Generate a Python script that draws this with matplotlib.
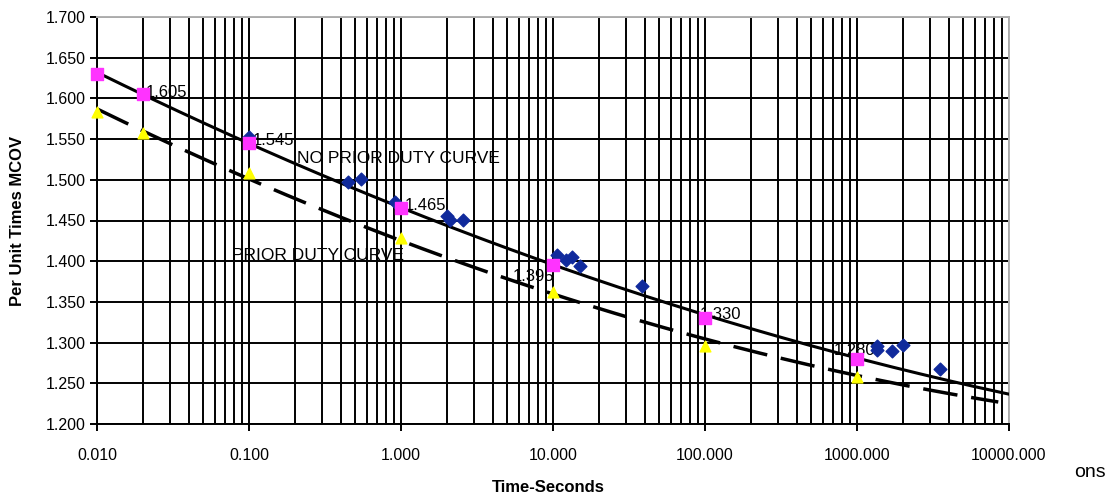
import matplotlib
matplotlib.use("Agg")
import matplotlib.pyplot as plt
import numpy as np
from matplotlib.ticker import FixedLocator, FuncFormatter, LogLocator, NullFormatter

plt.rcParams['font.family'] = ['Liberation Sans', 'DejaVu Sans']

# test results (blue diamonds)
test_t = [0.1, 0.448, 0.546, 0.914, 2.0, 2.1, 2.56, 10.6, 12.2, 13.3, 15.1, 38.5, 1350, 1350, 1700, 1995, 3516]
test_v = [1.552, 1.497, 1.501, 1.473, 1.455, 1.451, 1.451, 1.408, 1.402, 1.405, 1.394, 1.370, 1.296, 1.291, 1.290, 1.297, 1.267]

# no prior duty points (magenta squares)
nopd_t = [0.01, 0.02, 0.1, 1.0, 10.0, 100.0, 1000.0]
nopd_v = [1.630, 1.605, 1.545, 1.465, 1.395, 1.330, 1.280]
nopd_lbl = [None, "1.605", "1.545", "1.465", "1.395", "1.330", "1.280"]

# prior duty points (yellow triangles)
pd_t = [0.01, 0.02, 0.1, 1.0, 10.0, 100.0, 1000.0]
pd_v = [1.583, 1.557, 1.508, 1.428, 1.362, 1.296, 1.258]

# curve values at each decade
curve_t = [0.01, 0.1, 1.0, 10.0, 100.0, 1000.0, 10000.0]
nopd_curve = [1.630, 1.548, 1.465, 1.397, 1.332, 1.280, 1.238]
pd_curve = [1.583, 1.506, 1.427, 1.362, 1.298, 1.258, 1.228]

y_ticks = [1.200, 1.250, 1.300, 1.350, 1.400, 1.450, 1.500, 1.550, 1.600, 1.650, 1.700]
x_ticks = [0.01, 0.1, 1, 10, 100, 1000, 10000]

fig = plt.figure(figsize=(11.14, 4.94), dpi=100)
ax = fig.add_axes([97/1114, 1 - 424/494, 912/1114, 407/494])

ax.set_xscale("log")
ax.set_xlim(0.01, 10000)
ax.set_ylim(1.2, 1.7)

# smooth trend curves (quadratic in log time through the read values)
tt = np.logspace(-2, 4, 300)
c1 = np.polyfit(np.log10(curve_t), nopd_curve, 2)
c2 = np.polyfit(np.log10(curve_t), pd_curve, 2)
ax.plot(tt, np.polyval(c1, np.log10(tt)), color="black", lw=2.2, zorder=3)
tt2 = np.logspace(-2, np.log10(8500), 300)
ax.plot(tt2, np.polyval(c2, np.log10(tt2)), color="black", lw=2.5, dashes=(10, 4), zorder=3)

ax.scatter(test_t, test_v, marker="D", s=42, color="#102a9c", zorder=4, clip_on=False)
ax.scatter(pd_t, pd_v, marker="^", s=60, color="#ffff00", zorder=4, clip_on=False)
ax.scatter(nopd_t, nopd_v, marker="s", s=70, color="#ff33ff", zorder=5, clip_on=False)

# value labels (offsets in points, tuned to the picture)
offs = [None, (2, 1), (3, 2), (3, 2), (1, -8), (-4, 3), (-17, 6)]
align = [None, "left", "left", "left", "right", "left", "left"]
for t, v, lab, o, ha in zip(nopd_t, nopd_v, nopd_lbl, offs, align):
    if lab is None:
        continue
    ax.annotate(lab, (t, v), xytext=o, textcoords="offset points",
                fontsize=12, va="center", ha=ha, zorder=3.5)

ax.text(0.207, 1.5264, "NO PRIOR DUTY CURVE", fontsize=12.5, va="center", zorder=3.5)
ax.text(0.0773, 1.4069, "PRIOR DUTY CURVE", fontsize=12.5, va="center", zorder=3.5)

# grid
ax.xaxis.set_major_locator(FixedLocator(x_ticks))
ax.xaxis.set_minor_locator(LogLocator(base=10, subs=np.arange(2, 10)))
ax.xaxis.set_minor_formatter(NullFormatter())
ax.xaxis.set_major_formatter(FuncFormatter(lambda v, p: f"{v:.3f}"))
ax.yaxis.set_major_locator(FixedLocator(y_ticks))
ax.yaxis.set_major_formatter(FuncFormatter(lambda v, p: f"{v:.3f}"))
ax.grid(which="major", axis="both", color="black", lw=1.4)
ax.grid(which="minor", axis="x", color="black", lw=1.4)
ax.set_axisbelow(True)

ax.tick_params(which="major", direction="out", length=5, width=1.4, labelsize=11.5)
ax.tick_params(axis="y", pad=3)
ax.tick_params(axis="x", pad=12)
ax.tick_params(which="minor", length=0)
for s in ["top", "right"]:
    ax.spines[s].set_color("#b0b0b0")
    ax.spines[s].set_linewidth(1.4)
for s in ["left", "bottom"]:
    ax.spines[s].set_color("black")
    ax.spines[s].set_linewidth(1.4)

ax.set_ylabel("Per Unit Times MCOV", fontsize=12, fontweight="bold", va="center")
ax.set_xlabel("Time-Seconds", fontsize=12, fontweight="bold", va="center")
ax.yaxis.set_label_coords(-0.0877, 0.5)
ax.xaxis.set_label_coords(0.495, -0.155)

fig.text(1090/1114, 1 - 472/494, "ons", fontsize=14, va="center", ha="center")

fig.savefig("out.png", dpi=100)
